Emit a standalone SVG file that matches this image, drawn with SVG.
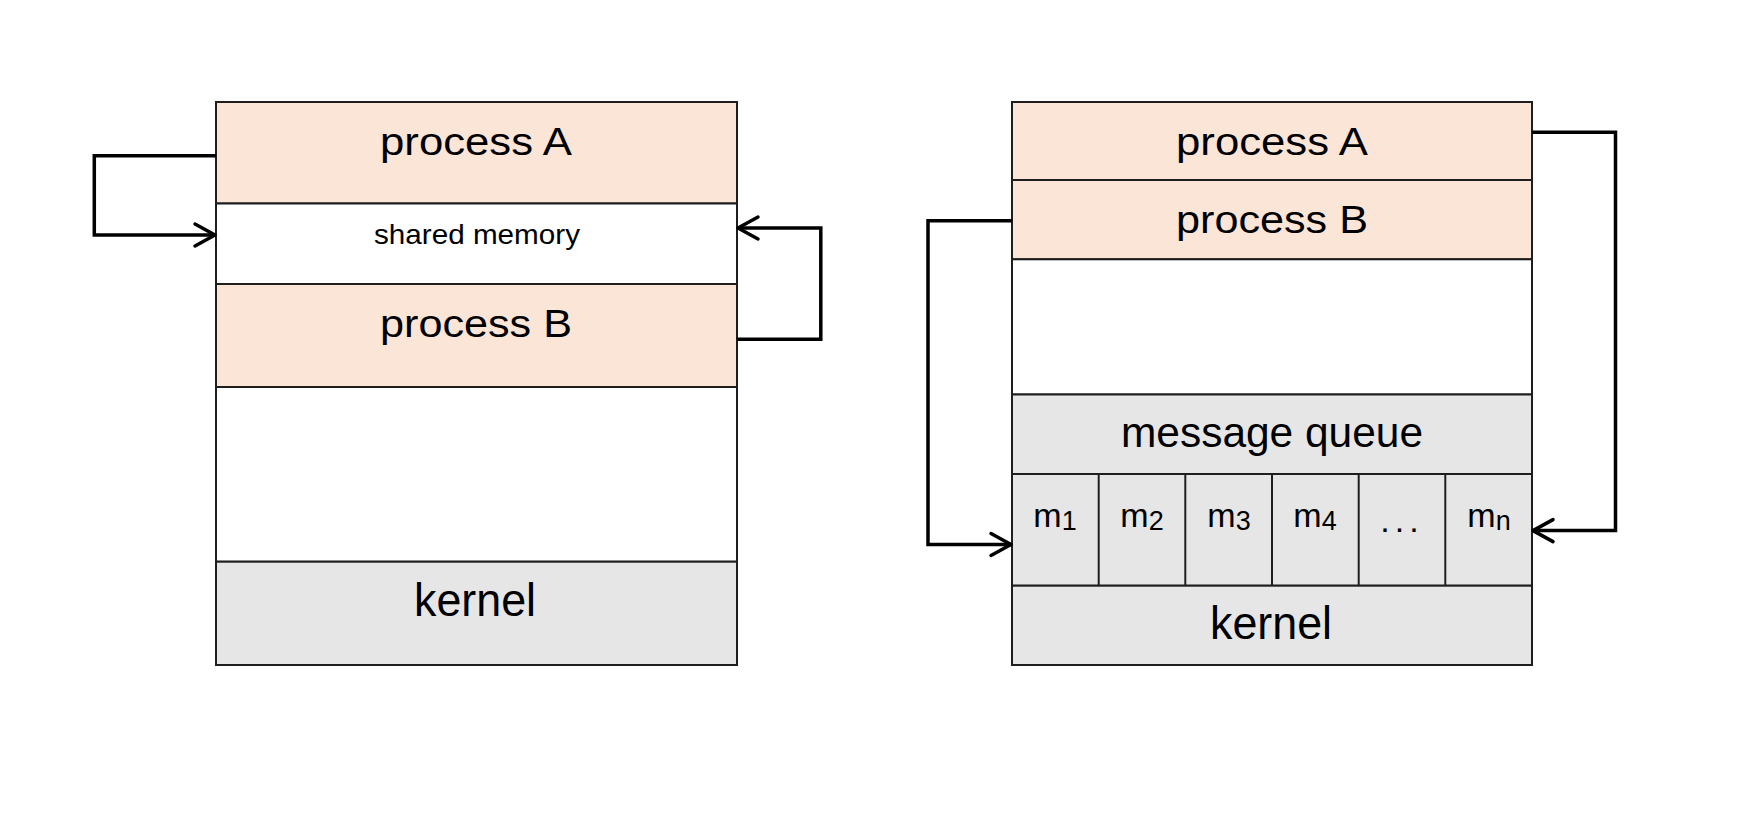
<svg xmlns="http://www.w3.org/2000/svg" width="1744" height="823" viewBox="0 0 1744 823">
<style>
.peach{fill:#fbe5d7;stroke:#1e1e1e;stroke-width:2}
.white{fill:#ffffff;stroke:#1e1e1e;stroke-width:2}
.gray{fill:#e6e6e6;stroke:#1e1e1e;stroke-width:2}
.div{stroke:#1e1e1e;stroke-width:2;fill:none}
text{font-family:"Liberation Sans",Arial,sans-serif;fill:#000000;text-anchor:middle}
.big{font-size:38px}
.med{font-size:28px}
.kern{font-size:46px}
.mq{font-size:42px}
.cell{font-size:34px}
.sub{font-size:27px}
.conn{fill:none;stroke:#000000;stroke-width:3.5;stroke-linejoin:miter}
</style>
<defs>
<marker id="arr" markerUnits="userSpaceOnUse" markerWidth="40" markerHeight="40" viewBox="-30 -20 40 40" refX="0" refY="0" orient="auto" overflow="visible">
<path d="M-20,-11 L0,0 L-20,11" fill="none" stroke="#000000" stroke-width="3.5" stroke-linecap="round" stroke-linejoin="round"/>
</marker>
</defs>
<rect width="1744" height="823" fill="#ffffff"/>

<g id="left-stack">
<g id="l-procA"><rect class="peach" x="216" y="102" width="521" height="101.5"/><text class="big" x="476" y="155" textLength="192" lengthAdjust="spacingAndGlyphs">process A</text></g>
<g id="l-shm"><rect class="white" x="216" y="203.5" width="521" height="80.5"/><text class="med" x="477" y="244" textLength="206" lengthAdjust="spacingAndGlyphs">shared memory</text></g>
<g id="l-procB"><rect class="peach" x="216" y="284" width="521" height="103"/><text class="big" x="476" y="337" textLength="192" lengthAdjust="spacingAndGlyphs">process B</text></g>
<g id="l-empty"><rect class="white" x="216" y="387" width="521" height="174.7"/></g>
<g id="l-kernel"><rect class="gray" x="216" y="561.7" width="521" height="103.3"/><text class="kern" x="475" y="616" textLength="122" lengthAdjust="spacingAndGlyphs">kernel</text></g>
</g>

<g id="right-stack">
<g id="r-procA"><rect class="peach" x="1012" y="102" width="520" height="78"/><text class="big" x="1272" y="155" textLength="192" lengthAdjust="spacingAndGlyphs">process A</text></g>
<g id="r-procB"><rect class="peach" x="1012" y="180" width="520" height="79.3"/><text class="big" x="1272" y="233" textLength="192" lengthAdjust="spacingAndGlyphs">process B</text></g>
<g id="r-empty"><rect class="white" x="1012" y="259.3" width="520" height="135.2"/></g>
<g id="r-mq"><rect class="gray" x="1012" y="394.5" width="520" height="79.5"/><text class="mq" x="1272" y="447" textLength="302" lengthAdjust="spacingAndGlyphs">message queue</text></g>
<g id="r-cells">
<rect class="gray" x="1012" y="474" width="520" height="111.7"/>
<line class="div" x1="1098.7" y1="474" x2="1098.7" y2="585.7"/>
<line class="div" x1="1185.3" y1="474" x2="1185.3" y2="585.7"/>
<line class="div" x1="1272" y1="474" x2="1272" y2="585.7"/>
<line class="div" x1="1358.7" y1="474" x2="1358.7" y2="585.7"/>
<line class="div" x1="1445.3" y1="474" x2="1445.3" y2="585.7"/>
<text class="cell" x="1055" y="527">m<tspan class="sub" dy="3">1</tspan></text>
<text class="cell" x="1142" y="527">m<tspan class="sub" dy="3">2</tspan></text>
<text class="cell" x="1229" y="527">m<tspan class="sub" dy="3">3</tspan></text>
<text class="cell" x="1315" y="527">m<tspan class="sub" dy="3">4</tspan></text>
<text class="cell" x="1402" y="532" letter-spacing="5">...</text>
<text class="cell" x="1489" y="527">m<tspan class="sub" dy="3">n</tspan></text>
</g>
<g id="r-kernel"><rect class="gray" x="1012" y="585.7" width="520" height="79.3"/><text class="kern" x="1271" y="639" textLength="122" lengthAdjust="spacingAndGlyphs">kernel</text></g>
</g>

<g id="connectors">
<path class="conn" d="M216,155.7 H94.3 V235 H215" marker-end="url(#arr)"/>
<path class="conn" d="M737,339.2 H820.8 V228 H738" marker-end="url(#arr)"/>
<path class="conn" d="M1532,132.3 H1615.5 V530.6 H1533" marker-end="url(#arr)"/>
<path class="conn" d="M1012,220.7 H928 V544.5 H1011" marker-end="url(#arr)"/>
</g>
</svg>
